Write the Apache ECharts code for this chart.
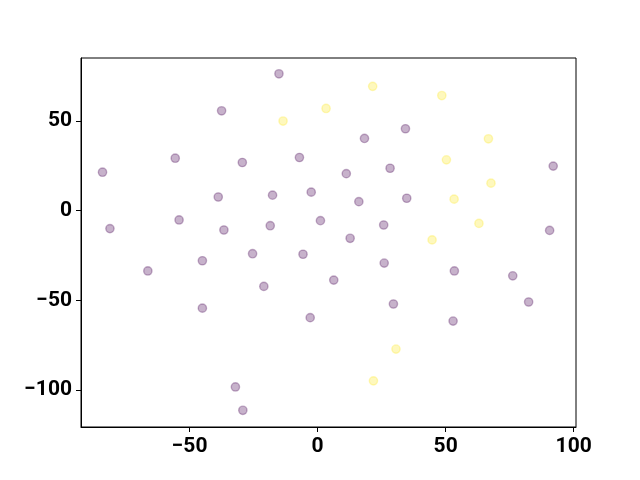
<!DOCTYPE html>
<html>
<head>
<meta charset="utf-8">
<script src="https://cdn.jsdelivr.net/npm/echarts@6/dist/echarts.min.js"></script>
<style>html,body{margin:0;padding:0;background:#fff}#c{width:640px;height:480px}</style>
</head>
<body>
<div id="c"></div>
<script>
// Group 0 (purple)
var x0 = [-15.1,-37.5,-84.0,-55.6,-29.4,-7.1,-38.8,-17.6,-2.5,11.2,18.3,34.3,28.3,16.1,34.8,92.0,
          -81.1,-54.1,-36.6,-18.5,1.1,12.7,25.8,90.6,-66.3,-45.0,-25.4,-5.7,26.0,53.4,6.3,-21.0,
          76.2,82.4,29.6,-45.0,-2.9,52.9,-32.1,-29.2];
var y0 = [76.2,55.6,21.4,29.2,26.8,29.6,7.6,8.6,10.3,20.6,40.2,45.6,23.6,5.0,6.9,24.8,
          -10.0,-5.2,-10.8,-8.4,-5.6,-15.4,-8.0,-11.0,-33.6,-27.9,-24.0,-24.3,-29.2,-33.6,-38.7,-42.2,
          -36.3,-50.9,-52.0,-54.3,-59.6,-61.5,-98.2,-111.2];
// Group 1 (yellow)
var x1 = [-13.5,3.3,21.5,48.5,66.7,50.3,67.7,53.3,63.0,44.7,30.6,21.8];
var y1 = [49.9,56.9,69.2,64.1,40.0,28.3,15.3,6.4,-7.1,-16.3,-77.1,-94.8];
var xTicks = [-50, 0, 50, 100];
var yTicks = [-100, -50, 0, 50];

function pairs(xs, ys){ return xs.map(function(v,i){ return [v, ys[i]]; }); }
function fmt(v){ return String(v).replace('-', '\u2212'); }

var chart = echarts.init(document.getElementById('c'), null, {renderer:'canvas'});
var labelStyle = {fontFamily:'Roboto', fontWeight:'bold', fontSize:21, color:'#000', formatter: fmt};
chart.setOption({
  animation:false,
  backgroundColor:'#fff',
  grid:{left:81, right:64, top:58, bottom:53, show:true, borderColor:'#000', borderWidth:1, backgroundColor:'transparent'},
  xAxis:{
    type:'value', min:-92.4, max:100.9,
    axisLine:{show:true, onZero:false, lineStyle:{color:'#000', width:1}},
    axisTick:{show:true, length:5, lineStyle:{color:'#000'}, customValues:xTicks},
    axisLabel:Object.assign({margin:9, customValues:xTicks}, labelStyle),
    splitLine:{show:false}
  },
  yAxis:{
    type:'value', min:-120.5, max:85.0,
    axisLine:{show:true, onZero:false, lineStyle:{color:'#000', width:1}},
    axisTick:{show:true, length:5, lineStyle:{color:'#000'}, customValues:yTicks},
    axisLabel:Object.assign({margin:9, customValues:yTicks}, labelStyle),
    splitLine:{show:false}
  },
  series:[
    {type:'scatter', data:pairs(x0,y0), symbol:'circle', symbolSize:8.3,
     itemStyle:{color:'rgba(68,1,84,0.3)', borderColor:'rgba(68,1,84,0.3)', borderWidth:1.4, opacity:1}},
    {type:'scatter', data:pairs(x1,y1), symbol:'circle', symbolSize:8.3,
     itemStyle:{color:'rgba(253,231,37,0.3)', borderColor:'rgba(253,231,37,0.3)', borderWidth:1.4, opacity:1}}
  ]
});
</script>
</body>
</html>
